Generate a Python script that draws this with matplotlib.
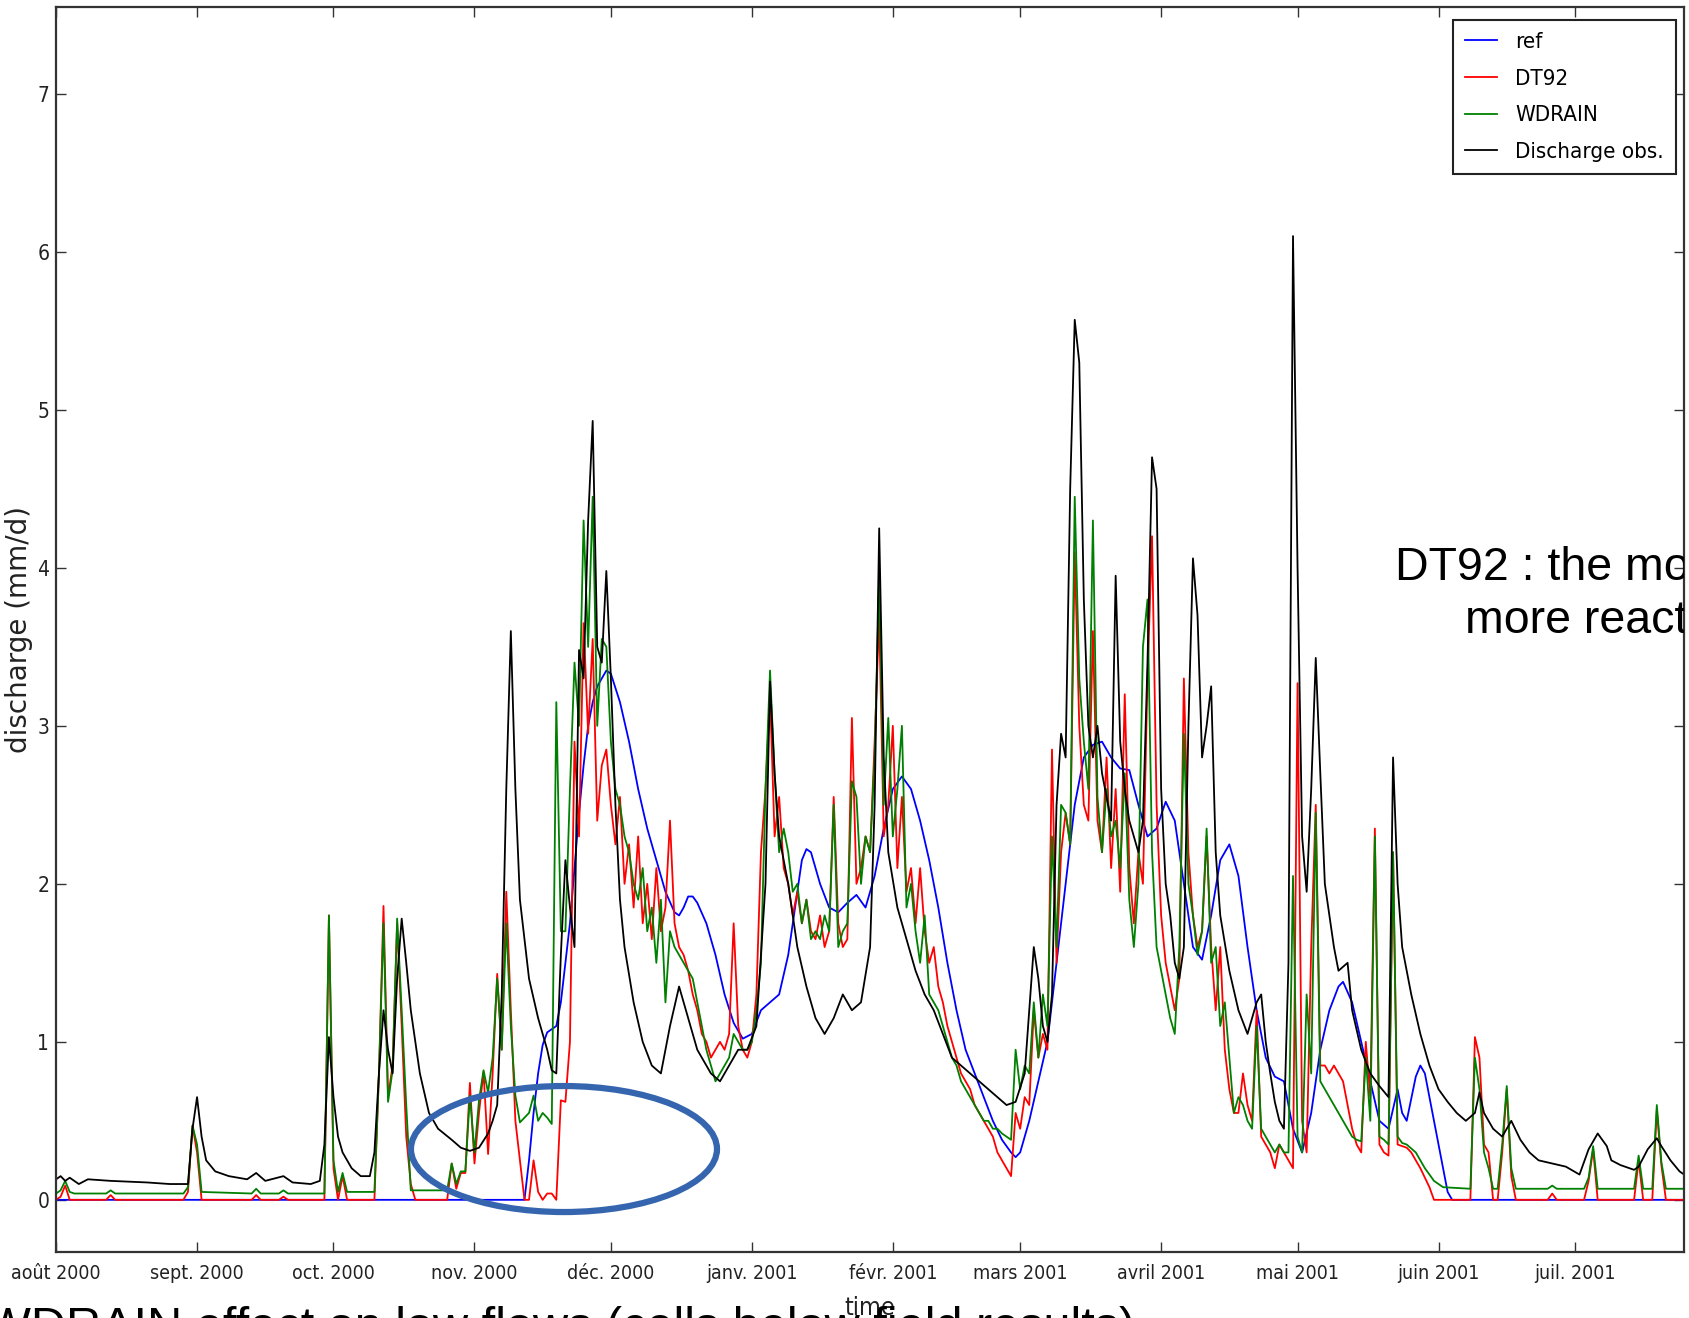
import matplotlib
matplotlib.use('Agg')
from matplotlib import pyplot as plt
from matplotlib import font_manager
from matplotlib.patches import Ellipse
import pandas as pd

# days since 2000-08-01 and discharge (mm/d)
obs_day = [0, 1, 2, 3, 5, 7, 12, 20, 25, 29, 30, 31, 32, 33, 35, 38, 42, 44, 46, 50, 52, 56, 58, 59,
           60, 61, 62, 63, 65, 67, 69, 70, 71, 72, 73, 74, 75, 76, 77, 78, 80, 82, 84, 87, 89, 91,
           93, 95, 96, 97, 98, 99, 100, 101, 102, 104, 106, 108, 109, 110, 111, 112, 113, 114, 115,
           116, 117, 118, 119, 120, 121, 122, 123, 124, 125, 127, 129, 131, 133, 135, 137, 139, 141,
           144, 146, 148, 150, 152, 154, 156, 157, 158, 159, 161, 163, 165, 167, 169, 171, 173, 175,
           177, 179, 180, 181, 182, 183, 185, 187, 189, 191, 193, 195, 197, 199, 201, 203, 205, 207,
           209, 211, 213, 214, 215, 216, 217, 218, 219, 220, 221, 222, 223, 224, 225, 226, 227, 228,
           229, 230, 231, 232, 233, 234, 235, 236, 237, 238, 239, 240, 241, 242, 243, 244, 245, 246,
           247, 248, 249, 250, 251, 252, 253, 254, 255, 256, 258, 260, 262, 264, 265, 266, 267, 268,
           269, 270, 271, 272, 273, 274, 275, 276, 277, 278, 279, 281, 282, 284, 285, 287, 289, 291,
           293, 294, 295, 296, 298, 300, 302, 304, 306, 308, 310, 312, 313, 314, 316, 318, 320, 322,
           324, 326, 329, 332, 335, 337, 339, 341, 342, 344, 347, 348, 350, 352, 353, 355, 357, 358]
obs_val = [0.13, 0.15, 0.12, 0.14, 0.10, 0.13, 0.12, 0.11, 0.10, 0.10, 0.45, 0.65, 0.40, 0.25, 0.18,
           0.15, 0.13, 0.17, 0.12, 0.15, 0.11, 0.10, 0.12, 0.35, 1.03, 0.65, 0.40, 0.30, 0.20, 0.15,
           0.15, 0.30, 0.80, 1.20, 0.95, 0.80, 1.40, 1.78, 1.50, 1.20, 0.80, 0.55, 0.45, 0.38, 0.33,
           0.31, 0.33, 0.42, 0.50, 0.60, 1.30, 2.60, 3.60, 2.60, 1.90, 1.40, 1.15, 0.95, 0.82, 0.80,
           1.55, 2.15, 1.85, 1.60, 3.48, 3.30, 4.30, 4.93, 3.50, 3.40, 3.98, 3.30, 2.50, 1.90, 1.60,
           1.25, 1.00, 0.85, 0.80, 1.10, 1.35, 1.15, 0.95, 0.80, 0.75, 0.85, 0.95, 0.95, 1.10, 2.00,
           3.28, 2.70, 2.30, 2.00, 1.60, 1.35, 1.15, 1.05, 1.15, 1.30, 1.20, 1.25, 1.60, 2.50, 4.25,
           2.80, 2.20, 1.85, 1.65, 1.45, 1.30, 1.20, 1.05, 0.90, 0.85, 0.80, 0.75, 0.70, 0.65, 0.60,
           0.62, 0.80, 1.20, 1.60, 1.40, 1.10, 1.00, 1.30, 2.50, 2.95, 2.80, 4.50, 5.57, 5.30, 3.80,
           3.00, 2.80, 3.00, 2.70, 2.55, 2.40, 3.95, 2.90, 2.60, 2.40, 2.30, 2.20, 2.40, 3.40, 4.70,
           4.50, 2.60, 2.00, 1.80, 1.50, 1.40, 1.60, 3.00, 4.06, 3.70, 2.80, 3.00, 3.25, 2.20, 1.80,
           1.45, 1.20, 1.05, 1.25, 1.30, 1.00, 0.80, 0.62, 0.50, 0.45, 1.50, 6.10, 4.00, 2.30, 1.95,
           2.60, 3.43, 2.70, 2.00, 1.60, 1.45, 1.50, 1.20, 0.95, 0.80, 0.72, 0.65, 2.80, 2.00, 1.60,
           1.30, 1.05, 0.85, 0.70, 0.62, 0.55, 0.50, 0.55, 0.68, 0.55, 0.45, 0.40, 0.50, 0.38, 0.30,
           0.25, 0.23, 0.21, 0.16, 0.32, 0.42, 0.34, 0.25, 0.22, 0.19, 0.21, 0.32, 0.39, 0.34, 0.25,
           0.18, 0.16]

ref_day = [0, 103, 104, 105, 106, 107, 108, 109, 110, 111, 112, 113, 114, 115, 116, 117, 118, 119,
           120, 121, 122, 124, 126, 128, 130, 132, 134, 136, 137, 138, 139, 140, 141, 143, 145, 147,
           149, 151, 153, 155, 157, 159, 161, 163, 164, 165, 166, 168, 170, 172, 174, 176, 178, 180,
           182, 184, 186, 188, 190, 192, 194, 196, 198, 200, 202, 204, 206, 208, 210, 211, 212, 214,
           216, 218, 220, 222, 224, 226, 228, 230, 232, 234, 236, 238, 240, 242, 244, 246, 248, 250,
           252, 254, 256, 258, 260, 262, 264, 266, 268, 270, 272, 274, 276, 278, 280, 282, 283, 285,
           287, 289, 291, 293, 295, 296, 297, 299, 300, 301, 303, 305, 306, 307, 358]
ref_val = [0, 0, 0.25, 0.55, 0.80, 0.98, 1.06, 1.08, 1.10, 1.25, 1.50, 1.75, 2.10, 2.45, 2.75, 3.00,
           3.15, 3.25, 3.30, 3.35, 3.33, 3.15, 2.90, 2.60, 2.35, 2.15, 1.95, 1.82, 1.80, 1.85, 1.92,
           1.92, 1.88, 1.75, 1.55, 1.30, 1.12, 1.02, 1.05, 1.20, 1.25, 1.30, 1.55, 1.95, 2.15, 2.22,
           2.20, 2.00, 1.85, 1.82, 1.88, 1.93, 1.85, 2.05, 2.35, 2.60, 2.68, 2.60, 2.40, 2.15, 1.85,
           1.50, 1.20, 0.95, 0.80, 0.65, 0.50, 0.38, 0.30, 0.27, 0.30, 0.50, 0.75, 1.00, 1.50, 2.00,
           2.50, 2.80, 2.88, 2.90, 2.80, 2.73, 2.72, 2.50, 2.30, 2.35, 2.52, 2.40, 2.00, 1.60, 1.52,
           1.80, 2.15, 2.25, 2.05, 1.60, 1.20, 0.90, 0.78, 0.75, 0.45, 0.30, 0.55, 0.95, 1.20, 1.35,
           1.38, 1.25, 1.00, 0.75, 0.50, 0.45, 0.70, 0.55, 0.50, 0.78, 0.85, 0.80, 0.50, 0.20, 0.05,
           0, 0]

dt92_day = [0, 1, 2, 3, 11, 12, 13, 28, 29, 30, 31, 32, 43, 44, 45, 49, 50, 51, 59, 60, 61, 62, 63,
            64, 70, 71, 72, 73, 74, 75, 76, 77, 78, 79, 86, 87, 88, 89, 90, 91, 92, 93, 94, 95, 96,
            97, 98, 99, 100, 101, 102, 103, 104, 105, 106, 107, 108, 109, 110, 111, 112, 113, 114,
            115, 116, 117, 118, 119, 120, 121, 122, 123, 124, 125, 126, 127, 128, 129, 130, 131, 132,
            133, 134, 135, 136, 137, 138, 139, 140, 141, 142, 143, 144, 145, 146, 147, 148, 149, 150,
            151, 152, 153, 154, 155, 156, 157, 158, 159, 160, 161, 162, 163, 164, 165, 166, 167, 168,
            169, 170, 171, 172, 173, 174, 175, 176, 177, 178, 179, 180, 181, 182, 183, 184, 185, 186,
            187, 188, 189, 190, 191, 192, 193, 194, 195, 196, 197, 198, 199, 200, 201, 202, 203, 204,
            205, 206, 207, 208, 209, 210, 211, 212, 213, 214, 215, 216, 217, 218, 219, 220, 221, 222,
            223, 224, 225, 226, 227, 228, 229, 230, 231, 232, 233, 234, 235, 236, 237, 238, 239, 240,
            241, 242, 243, 244, 245, 246, 247, 248, 249, 250, 251, 252, 253, 254, 255, 256, 257, 258,
            259, 260, 261, 262, 263, 264, 265, 266, 267, 268, 269, 270, 271, 272, 273, 274, 275, 276,
            277, 278, 279, 280, 281, 282, 283, 284, 285, 286, 287, 288, 289, 290, 291, 292, 293, 294,
            295, 296, 297, 298, 300, 302, 303, 311, 312, 313, 314, 315, 316, 317, 318, 319, 320, 321,
            328, 329, 330, 336, 337, 338, 339, 347, 348, 349, 351, 352, 353, 354, 358]
dt92_val = [0, 0.02, 0.09, 0, 0, 0.03, 0, 0, 0.05, 0.47, 0.30, 0, 0, 0.03, 0, 0, 0.02, 0, 0, 1.80,
            0.20, 0, 0.15, 0, 0, 0.80, 1.86, 0.65, 0.85, 1.75, 1.10, 0.40, 0.10, 0, 0, 0.23, 0.07,
            0.17, 0.17, 0.74, 0.23, 0.55, 0.81, 0.29, 0.80, 1.43, 0.95, 1.95, 1.20, 0.50, 0.25, 0, 0,
            0.25, 0.05, 0, 0.04, 0.04, 0, 0.63, 0.62, 1.00, 2.90, 2.30, 3.65, 2.95, 3.55, 2.40, 2.75,
            2.85, 2.50, 2.25, 2.55, 2.00, 2.25, 1.85, 2.30, 1.75, 2.00, 1.65, 2.10, 1.70, 1.85, 2.40,
            1.75, 1.60, 1.55, 1.45, 1.30, 1.20, 1.05, 1.00, 0.90, 0.95, 1.00, 0.95, 1.05, 1.75, 1.10,
            0.95, 0.90, 1.00, 1.30, 2.20, 2.60, 3.20, 2.30, 2.55, 2.10, 2.00, 1.80, 1.95, 1.75, 1.90,
            1.70, 1.65, 1.80, 1.60, 1.70, 2.55, 1.75, 1.60, 1.65, 3.05, 2.00, 2.10, 2.30, 2.20, 2.90,
            3.70, 2.30, 2.50, 3.00, 2.10, 2.55, 1.95, 2.10, 1.75, 2.10, 1.70, 1.50, 1.60, 1.35, 1.25,
            1.10, 1.00, 0.90, 0.80, 0.75, 0.70, 0.60, 0.55, 0.50, 0.45, 0.40, 0.30, 0.25, 0.20, 0.15,
            0.55, 0.45, 0.65, 0.60, 1.20, 0.90, 1.05, 0.95, 2.85, 1.50, 2.20, 2.45, 2.25, 4.10, 3.00,
            2.50, 2.40, 3.60, 2.40, 2.20, 2.80, 2.10, 2.60, 1.95, 3.20, 2.10, 1.75, 2.20, 2.00, 3.30,
            4.20, 2.50, 1.80, 1.50, 1.35, 1.20, 1.40, 3.30, 2.20, 1.80, 1.60, 1.70, 2.30, 1.60, 1.20,
            1.60, 0.95, 0.70, 0.55, 0.55, 0.80, 0.60, 0.50, 1.20, 0.40, 0.35, 0.30, 0.20, 0.35, 0.30,
            0.25, 0.20, 3.27, 0.50, 0.30, 1.60, 2.50, 0.85, 0.85, 0.80, 0.85, 0.80, 0.75, 0.60, 0.45,
            0.35, 0.30, 1.00, 0.65, 2.35, 0.35, 0.30, 0.28, 2.20, 0.35, 0.34, 0.33, 0.30, 0.20, 0.08,
            0, 0, 1.03, 0.90, 0.35, 0.30, 0, 0, 0.30, 0.70, 0.15, 0, 0, 0.04, 0, 0, 0.12, 0.32, 0,
            0, 0.25, 0, 0, 0.57, 0.22, 0, 0]

wdrain_day = [0, 1, 2, 3, 4, 11, 12, 13, 28, 29, 30, 31, 32, 43, 44, 45, 49, 50, 51, 59, 60, 61, 62,
              63, 64, 70, 71, 72, 73, 74, 75, 76, 77, 78, 86, 87, 88, 89, 90, 91, 92, 93, 94, 95,
              96, 97, 98, 99, 100, 101, 102, 103, 104, 105, 106, 107, 108, 109, 110, 111, 112, 113,
              114, 115, 116, 117, 118, 119, 120, 121, 122, 123, 124, 125, 126, 127, 128, 129, 130,
              131, 132, 133, 134, 135, 136, 137, 138, 139, 140, 141, 142, 143, 144, 145, 146, 147,
              148, 149, 150, 151, 152, 153, 154, 155, 156, 157, 158, 159, 160, 161, 162, 163, 164,
              165, 166, 167, 168, 169, 170, 171, 172, 173, 174, 175, 176, 177, 178, 179, 180, 181,
              182, 183, 184, 185, 186, 187, 188, 189, 190, 191, 192, 193, 194, 195, 196, 197, 198,
              199, 200, 201, 202, 203, 204, 205, 206, 207, 208, 209, 210, 211, 212, 213, 214, 215,
              216, 217, 218, 219, 220, 221, 222, 223, 224, 225, 226, 227, 228, 229, 230, 231, 232,
              233, 234, 235, 236, 237, 238, 239, 240, 241, 242, 243, 244, 245, 246, 247, 248, 249,
              250, 251, 252, 253, 254, 255, 256, 257, 258, 259, 260, 261, 262, 263, 264, 265, 266,
              267, 268, 269, 270, 271, 272, 273, 274, 275, 276, 277, 278, 279, 280, 281, 282, 283,
              284, 285, 286, 287, 288, 289, 290, 291, 292, 293, 294, 295, 296, 297, 299, 301, 303,
              305, 311, 312, 313, 314, 315, 316, 317, 318, 319, 320, 321, 328, 329, 330, 336, 337,
              338, 339, 347, 348, 349, 351, 352, 353, 354, 358]
wdrain_val = [0.04, 0.06, 0.12, 0.05, 0.04, 0.04, 0.06, 0.04, 0.04, 0.08, 0.47, 0.35, 0.05, 0.04,
              0.07, 0.04, 0.04, 0.06, 0.04, 0.04, 1.80, 0.25, 0.05, 0.17, 0.05, 0.05, 0.80, 1.75,
              0.62, 0.82, 1.78, 1.20, 0.60, 0.06, 0.06, 0.23, 0.10, 0.18, 0.18, 0.66, 0.30, 0.63,
              0.82, 0.68, 0.90, 1.40, 0.95, 1.75, 1.10, 0.66, 0.49, 0.52, 0.55, 0.66, 0.50, 0.55,
              0.52, 0.48, 3.15, 1.70, 1.70, 2.60, 3.40, 3.00, 4.30, 3.50, 4.45, 3.00, 3.55, 3.50,
              2.90, 2.60, 2.50, 2.30, 2.20, 2.00, 1.90, 2.10, 1.70, 1.85, 1.50, 1.90, 1.25, 1.70,
              1.60, 1.55, 1.50, 1.45, 1.40, 1.25, 1.10, 0.95, 0.85, 0.75, 0.80, 0.85, 0.90, 1.05,
              1.00, 0.95, 0.95, 1.00, 1.20, 1.50, 2.60, 3.35, 2.70, 2.20, 2.35, 2.20, 1.95, 2.00,
              1.75, 1.90, 1.65, 1.70, 1.65, 1.80, 1.70, 2.50, 1.60, 1.70, 1.75, 2.65, 2.55, 2.00,
              2.30, 2.20, 2.80, 3.95, 2.50, 3.05, 2.30, 2.60, 3.00, 1.85, 2.00, 1.70, 1.50, 1.80,
              1.30, 1.25, 1.20, 1.10, 1.00, 0.90, 0.85, 0.75, 0.70, 0.65, 0.60, 0.55, 0.50, 0.50,
              0.45, 0.45, 0.42, 0.40, 0.38, 0.95, 0.70, 0.85, 0.80, 1.25, 0.90, 1.30, 1.10, 2.30,
              1.60, 2.50, 2.45, 2.25, 4.45, 3.30, 2.90, 2.60, 4.30, 2.55, 2.20, 2.60, 2.30, 2.40,
              2.10, 2.70, 1.90, 1.60, 2.00, 3.50, 3.80, 2.20, 1.60, 1.45, 1.30, 1.15, 1.05, 1.60,
              2.95, 2.00, 1.80, 1.55, 1.70, 2.35, 1.50, 1.60, 1.10, 1.25, 0.90, 0.55, 0.65, 0.60,
              0.50, 0.45, 1.10, 0.45, 0.40, 0.35, 0.30, 0.35, 0.30, 0.30, 2.05, 0.40, 0.30, 1.30,
              0.80, 2.45, 0.75, 0.70, 0.65, 0.60, 0.55, 0.50, 0.45, 0.40, 0.38, 0.37, 0.90, 0.50,
              2.30, 0.40, 0.38, 0.35, 2.20, 0.40, 0.36, 0.35, 0.30, 0.20, 0.12, 0.08, 0.07, 0.90,
              0.70, 0.30, 0.20, 0.07, 0.07, 0.35, 0.72, 0.20, 0.07, 0.07, 0.09, 0.07, 0.07, 0.14,
              0.34, 0.07, 0.07, 0.28, 0.07, 0.07, 0.60, 0.24, 0.07, 0.07]

month_labels = ['août 2000', 'sept. 2000', 'oct. 2000', 'nov. 2000', 'déc. 2000', 'janv. 2001',
                'févr. 2001', 'mars 2001', 'avril 2001', 'mai 2001', 'juin 2001', 'juil. 2001']

start = pd.Timestamp('2000-08-01')


def as_dates(days):
    return start + pd.to_timedelta(days, unit='D')


# the chart in the picture is squeezed sideways, a narrow face gets closest
names = {f.name for f in font_manager.fontManager.ttflist}
narrow = 'Liberation Sans Narrow' if 'Liberation Sans Narrow' in names else 'DejaVu Sans'
narrow_font = dict(family=narrow, stretch='condensed')

fig = plt.figure(figsize=(16.89, 13.18), dpi=100)
ax = fig.add_axes([0.0332, 0.0501, 0.9639, 0.9446])

ax.plot(as_dates(ref_day), ref_val, color='b', lw=1.3, label='ref')
ax.plot(as_dates(dt92_day), dt92_val, color='r', lw=1.3, label='DT92')
ax.plot(as_dates(wdrain_day), wdrain_val, color='g', lw=1.3, label='WDRAIN')
ax.plot(as_dates(obs_day), obs_val, color='k', lw=1.3, label='Discharge obs.')

ax.set_xlim(start, start + pd.Timedelta(days=358))
ax.set_ylim(-0.33, 7.55)
ax.set_yticks(range(8))
ax.set_xticks(pd.date_range(start, periods=12, freq='MS'))
ax.set_xticklabels(month_labels, fontdict=narrow_font, fontsize=14)
ax.set_yticklabels([str(v) for v in range(8)], fontdict=narrow_font, fontsize=15)
ax.tick_params(axis='both', direction='in', top=True, right=True, length=7, width=1, colors='#333333')
ax.tick_params(axis='x', pad=9, labelcolor='#222222')
ax.tick_params(axis='y', pad=5, labelcolor='#222222')
for s in ax.spines.values():
    s.set_linewidth(1.6)
    s.set_color('#333333')

ax.set_ylabel('discharge (mm/d)', fontsize=20, color='#222222')
ax.yaxis.set_label_coords(-0.0141, 0.5)
ax.set_xlabel('time', fontdict=narrow_font, fontsize=18, color='#222222')
ax.xaxis.set_label_coords(0.5, -0.035)
ax.xaxis.label.set_va('top')

leg = ax.legend(loc='upper right', bbox_to_anchor=(0.9951, 0.9896), borderaxespad=0,
                fancybox=False, edgecolor='#222222', framealpha=1, handlelength=1.45,
                handletextpad=0.8, borderpad=0.55, labelspacing=0.75,
                prop=font_manager.FontProperties(family=narrow, stretch='condensed', size=16))
leg.get_frame().set_linewidth(1.5)

# slide annotations laid over the chart
ax.text(0.8225, 0.5398, 'DT92 : the model is', transform=ax.transAxes, fontsize=33.5,
        family='Liberation Sans', va='baseline', clip_on=True)
ax.text(0.8655, 0.4972, 'more reactive', transform=ax.transAxes, fontsize=33.5,
        family='Liberation Sans', va='baseline', clip_on=True)
fig.text(-0.009, -0.0175, 'WDRAIN effect on low flows (cells below field results)',
         fontsize=35, family='Liberation Sans', va='baseline')
fig.add_artist(Ellipse((0.3339, 0.1282), 0.1812, 0.0956, transform=fig.transFigure,
                       fill=False, edgecolor='#3565ae', lw=4.5))

fig.savefig('out.png', dpi=100)
